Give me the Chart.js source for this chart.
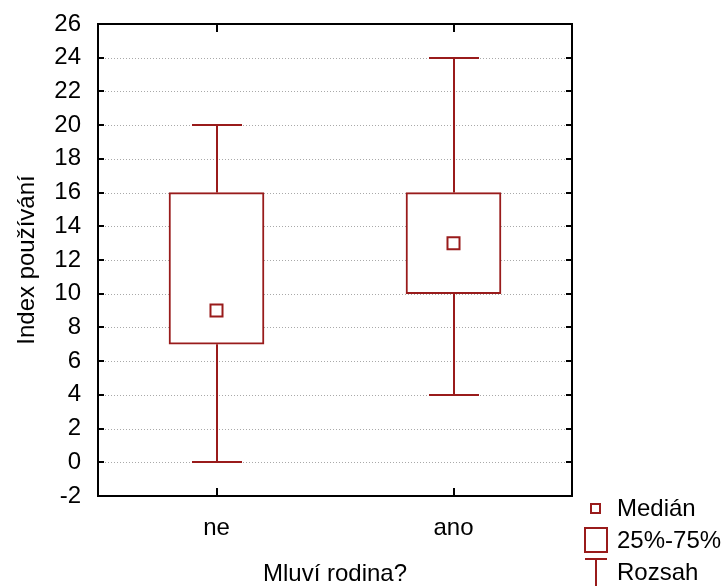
<!DOCTYPE html>
<html>
<head>
<meta charset="utf-8">
<script src="https://cdn.jsdelivr.net/npm/chart.js@4.4.0/dist/chart.umd.min.js"></script>
<style>
  html, body { margin: 0; padding: 0; background: #fff; }
  #wrap { width: 728px; height: 586px; }
</style>
</head>
<body>
<div id="wrap"><canvas id="boxChart" width="728" height="586"></canvas></div>
<script>
const categories = ["ne", "ano"];
const minValues = [0, 4];
const q1Values = [7, 10];
const medianValues = [9, 13];
const q3Values = [16, 16];
const maxValues = [20, 24];
const yTickValues = [-2, 0, 2, 4, 6, 8, 10, 12, 14, 16, 18, 20, 22, 24, 26];

const legendLabels = ["Medián", "25%-75%", "Rozsah"];

const red = "#991b1b";
const fontFamily = "'Liberation Sans', Arial, sans-serif";

// dotted grid, inner tick marks and the closed frame
const framePlugin = {
  id: "frame",
  beforeDatasetsDraw(chart) {
    const { ctx, chartArea: a, scales: { y } } = chart;
    ctx.save();
    ctx.strokeStyle = "#a9a9a9";
    ctx.lineWidth = 1;
    ctx.setLineDash([1, 2]);
    yTickValues.forEach(v => {
      if (v <= y.min || v >= y.max) return;
      const py = Math.round(y.getPixelForValue(v)) + 0.5;
      ctx.beginPath();
      ctx.moveTo(a.left + 7, py);
      ctx.lineTo(a.right - 7, py);
      ctx.stroke();
    });
    ctx.restore();
  },
  afterDatasetsDraw(chart) {
    const { ctx, chartArea: a, scales: { x, y } } = chart;
    ctx.save();
    ctx.strokeStyle = "#000";
    ctx.lineWidth = 2;
    yTickValues.forEach(v => {
      const py = Math.round(y.getPixelForValue(v));
      ctx.beginPath();
      ctx.moveTo(a.left, py);
      ctx.lineTo(a.left + 6, py);
      ctx.moveTo(a.right - 6, py);
      ctx.lineTo(a.right, py);
      ctx.stroke();
    });
    categories.forEach((c, i) => {
      const px = Math.round(x.getPixelForValue(i));
      ctx.beginPath();
      ctx.moveTo(px, a.top);
      ctx.lineTo(px, a.top + 8);
      ctx.moveTo(px, a.bottom - 8);
      ctx.lineTo(px, a.bottom);
      ctx.stroke();
    });
    ctx.strokeRect(Math.round(a.left), Math.round(a.top),
      Math.round(a.right - a.left), Math.round(a.bottom - a.top));
    ctx.restore();
  }
};

// range whiskers (min..q1, q3..max) with caps
const whiskerPlugin = {
  id: "whiskers",
  afterDatasetsDraw(chart) {
    const { ctx, scales: { x, y } } = chart;
    ctx.save();
    ctx.strokeStyle = red;
    ctx.lineWidth = 2;
    categories.forEach((c, i) => {
      const px = Math.round(x.getPixelForValue(i));
      const pMin = Math.round(y.getPixelForValue(minValues[i]));
      const pQ1 = y.getPixelForValue(q1Values[i]);
      const pQ3 = y.getPixelForValue(q3Values[i]);
      const pMax = Math.round(y.getPixelForValue(maxValues[i]));
      ctx.beginPath();
      ctx.moveTo(px, pQ1);
      ctx.lineTo(px, pMin);
      ctx.moveTo(px - 25, pMin);
      ctx.lineTo(px + 25, pMin);
      ctx.moveTo(px, pQ3);
      ctx.lineTo(px, pMax);
      ctx.moveTo(px - 25, pMax);
      ctx.lineTo(px + 25, pMax);
      ctx.stroke();
    });
    ctx.restore();
  }
};

// legend block below right of the plot
const legendPlugin = {
  id: "boxLegend",
  afterDraw(chart) {
    const { ctx, chartArea: a } = chart;
    const ix = a.right + 13;
    const tx = a.right + 45;
    const rows = [a.bottom + 12, a.bottom + 44, a.bottom + 76];
    ctx.save();
    ctx.strokeStyle = red;
    ctx.fillStyle = "#fff";
    ctx.lineWidth = 2;
    // median marker
    ctx.strokeRect(ix + 6, rows[0] - 4, 9, 9);
    // quartile box
    ctx.strokeRect(ix, rows[1] - 12, 22, 24);
    // range
    ctx.beginPath();
    ctx.moveTo(ix, rows[2] - 13);
    ctx.lineTo(ix + 22, rows[2] - 13);
    ctx.moveTo(ix + 11, rows[2] - 13);
    ctx.lineTo(ix + 11, rows[2] + 16);
    ctx.stroke();
    ctx.fillStyle = "#000";
    ctx.font = "24px " + fontFamily;
    ctx.textBaseline = "middle";
    ctx.textAlign = "left";
    legendLabels.forEach((t, k) => ctx.fillText(t, tx, rows[k] + 1));
    ctx.restore();
  }
};

const config = {
  data: {
    labels: categories,
    datasets: [
      {
        type: "line",
        label: legendLabels[0],
        data: medianValues,
        showLine: false,
        pointStyle: "rect",
        pointRadius: 8.5,
        pointBorderWidth: 2,
        pointBorderColor: red,
        pointBackgroundColor: "#fff",
        order: 0
      },
      {
        type: "bar",
        label: legendLabels[1],
        data: categories.map((c, i) => [q1Values[i], q3Values[i]]),
        backgroundColor: "#fff",
        borderColor: red,
        borderWidth: 2,
        borderSkipped: false,
        barThickness: 95,
        order: 1
      }
    ]
  },
  options: {
    responsive: false,
    animation: false,
    layout: { padding: { top: 24, right: 156, left: 0, bottom: 0 } },
    plugins: {
      legend: { display: false },
      tooltip: { enabled: false }
    },
    scales: {
      x: {
        type: "category",
        offset: true,
        grid: { display: false, drawTicks: false },
        border: { display: false },
        ticks: {
          padding: 18,
          color: "#000",
          font: { family: fontFamily, size: 24 }
        },
        title: {
          display: true,
          text: "Mluví rodina?",
          color: "#000",
          font: { family: fontFamily, size: 24, lineHeight: 1 },
          padding: { top: 0, bottom: 0 }
        },
        afterFit(scale) {
          scale.height = 90;
          scale.paddingLeft = 0;
          scale.paddingRight = 0;
        }
      },
      y: {
        min: -2,
        max: 26,
        grid: { display: false, drawTicks: false },
        border: { display: false },
        afterBuildTicks(scale) {
          scale.ticks = yTickValues.map(v => ({ value: v }));
        },
        ticks: {
          padding: 17,
          color: "#000",
          font: { family: fontFamily, size: 24 }
        },
        title: {
          display: true,
          text: "Index používání",
          color: "#000",
          font: { family: fontFamily, size: 24, lineHeight: 1 },
          padding: { top: 15, bottom: 0 }
        },
        afterFit(scale) {
          scale.width = 98;
          scale.paddingTop = 0;
          scale.paddingBottom = 0;
        }
      }
    }
  },
  plugins: [framePlugin, whiskerPlugin, legendPlugin]
};

const ctxBox = document.getElementById("boxChart").getContext("2d");
new Chart(ctxBox, config);
</script>
</body>
</html>
